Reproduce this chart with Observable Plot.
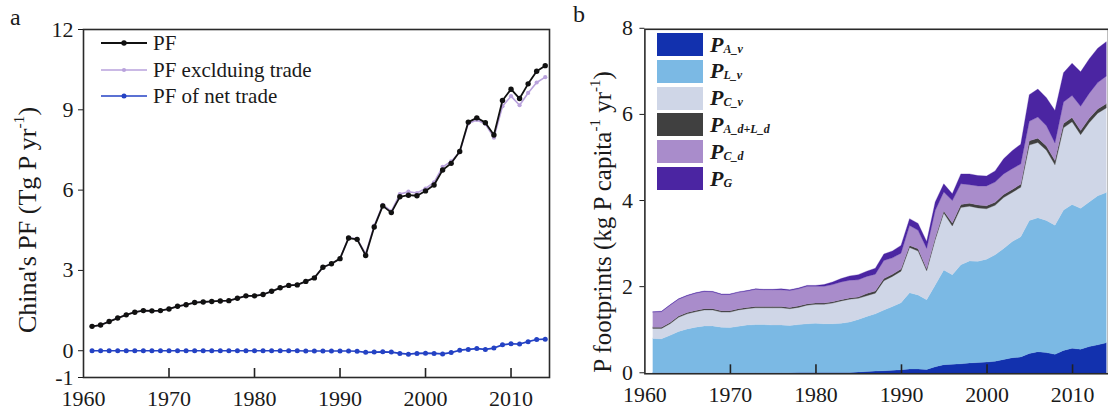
<!DOCTYPE html>
<html><head><meta charset="utf-8">
<script src="https://cdn.jsdelivr.net/npm/d3@7"></script>
<script src="https://cdn.jsdelivr.net/npm/@observablehq/plot@0.6"></script>
<style>
html,body{margin:0;padding:0;background:#fff;overflow:hidden;width:1108px;height:412px}
#wrap{position:relative;width:1108px;height:412px;overflow:hidden;font-family:"Liberation Serif","Times New Roman",serif;color:#1a1a1a}
.abs{position:absolute}
.ytitle{position:absolute;white-space:nowrap;font-size:26px;transform:translate(-50%,-50%) rotate(-90deg);}
.ytitle sup{font-size:0.6em;vertical-align:0.75em;line-height:0}
.panel{position:absolute;font-size:24px}
.lega{position:absolute;left:100px;height:26px;display:flex;align-items:center;font-size:21px;white-space:nowrap}
.legb{position:absolute;left:657px;height:23px;display:flex;align-items:center;white-space:nowrap}
.sw{width:46px;height:23px;margin-right:7px}
.lb{font-weight:bold;font-style:italic;font-size:22px}
.lb sub{font-size:12px;vertical-align:-0.1em;}
</style></head><body><div id="wrap"></div>
<script>
const years = [1961,1962,1963,1964,1965,1966,1967,1968,1969,1970,
  1971,1972,1973,1974,1975,1976,1977,1978,1979,1980,
  1981,1982,1983,1984,1985,1986,1987,1988,1989,1990,
  1991,1992,1993,1994,1995,1996,1997,1998,1999,2000,
  2001,2002,2003,2004,2005,2006,2007,2008,2009,2010,
  2011,2012,2013,2014];

// Panel a: China's PF (Tg P / yr)
const pf = [0.91,0.96,1.09,1.22,1.34,1.44,1.50,1.49,1.50,1.56,
  1.66,1.72,1.80,1.82,1.84,1.86,1.87,1.96,2.05,2.05,
  2.10,2.22,2.35,2.44,2.46,2.59,2.72,3.12,3.25,3.44,
  4.21,4.16,3.56,4.62,5.41,5.16,5.75,5.81,5.79,5.97,
  6.19,6.75,7.00,7.44,8.54,8.70,8.52,8.06,9.35,9.77,
  9.42,9.97,10.44,10.65];
const pfExcl = [0.91,0.96,1.09,1.22,1.34,1.44,1.50,1.49,1.50,1.56,
  1.66,1.72,1.80,1.82,1.84,1.86,1.87,1.96,2.05,2.05,
  2.10,2.22,2.35,2.44,2.46,2.59,2.72,3.12,3.25,3.44,
  4.22,4.18,3.62,4.67,5.45,5.21,5.85,5.94,5.89,6.06,
  6.29,6.87,7.07,7.42,8.49,8.62,8.47,7.96,9.13,9.51,
  9.17,9.63,10.02,10.22];
const pfNet = [0,0,0,0,0,0,0,0,0,0,
  0,0,0,0,0,0,0,0,0,0,
  0,0,0,0,0,-0.01,-0.01,-0.01,-0.01,-0.01,
  -0.01,-0.02,-0.06,-0.05,-0.04,-0.05,-0.10,-0.13,-0.10,-0.09,
  -0.10,-0.12,-0.07,0.02,0.05,0.08,0.05,0.10,0.22,0.26,
  0.25,0.34,0.42,0.43];

// Panel b: stacked P footprints (kg P / capita / yr) — upper boundary of each layer
const topAv = [0.01,0.01,0.01,0.01,0.01,0.01,0.01,0.01,0.01,0.01,
  0.01,0.01,0.01,0.01,0.01,0.01,0.01,0.02,0.02,0.02,
  0.02,0.02,0.02,0.02,0.03,0.04,0.05,0.06,0.07,0.08,
  0.10,0.10,0.09,0.15,0.20,0.21,0.22,0.24,0.25,0.26,
  0.28,0.32,0.36,0.38,0.46,0.50,0.48,0.44,0.53,0.58,
  0.56,0.62,0.66,0.71];
const topLv = [0.81,0.80,0.88,0.97,1.03,1.07,1.10,1.10,1.07,1.06,
  1.09,1.12,1.13,1.13,1.12,1.12,1.11,1.13,1.15,1.16,
  1.15,1.15,1.16,1.19,1.25,1.32,1.38,1.47,1.55,1.64,
  1.87,1.82,1.71,2.05,2.40,2.29,2.52,2.61,2.60,2.65,
  2.75,2.90,3.06,3.17,3.55,3.61,3.55,3.44,3.79,3.92,
  3.83,3.98,4.12,4.20];
const topCv = [1.04,1.04,1.15,1.30,1.38,1.43,1.47,1.47,1.42,1.42,
  1.47,1.50,1.52,1.52,1.52,1.52,1.50,1.53,1.58,1.60,
  1.60,1.63,1.68,1.72,1.74,1.80,1.86,2.15,2.25,2.37,
  2.92,2.84,2.38,3.10,3.72,3.42,3.85,3.88,3.84,3.82,
  3.90,4.08,4.20,4.32,5.30,5.36,5.18,4.84,5.70,5.84,
  5.54,5.82,6.04,6.16];
const topAdLd = [1.07,1.07,1.18,1.33,1.41,1.46,1.50,1.50,1.45,1.45,
  1.50,1.53,1.55,1.55,1.55,1.55,1.53,1.56,1.61,1.63,
  1.63,1.66,1.71,1.75,1.77,1.85,1.91,2.20,2.30,2.42,
  2.97,2.89,2.43,3.15,3.77,3.49,3.92,3.95,3.91,3.89,
  3.97,4.15,4.27,4.39,5.40,5.46,5.28,4.94,5.80,5.94,
  5.64,5.92,6.14,6.26];
const topCd = [1.42,1.43,1.58,1.72,1.80,1.86,1.90,1.89,1.83,1.83,
  1.88,1.91,1.95,1.94,1.94,1.94,1.92,1.96,2.02,2.02,
  2.02,2.06,2.12,2.16,2.17,2.25,2.30,2.62,2.68,2.79,
  3.43,3.32,2.90,3.78,4.21,4.01,4.40,4.38,4.35,4.35,
  4.44,4.63,4.75,4.86,5.85,5.95,5.75,5.35,6.30,6.45,
  6.20,6.50,6.75,6.90];
const topG = [1.43,1.44,1.59,1.73,1.81,1.87,1.91,1.90,1.84,1.84,
  1.89,1.92,1.96,1.95,1.95,1.96,1.94,1.98,2.04,2.04,
  2.06,2.12,2.20,2.26,2.29,2.37,2.44,2.77,2.84,2.97,
  3.59,3.48,3.06,3.98,4.40,4.17,4.63,4.63,4.59,4.58,
  4.70,4.98,5.17,5.32,6.47,6.60,6.40,6.10,6.98,7.20,
  7.00,7.30,7.55,7.70];

const xTicks = [1960,1970,1980,1990,2000,2010];
const yTicksA = [-1,0,3,6,9,12];
const yTicksB = [0,2,4,6,8];

const seriesA = [
  {name:"PF", values: pf, color:"#111111", r:2.7, w:1.8},
  {name:"PF excl" + "duing trade", values: pfExcl, color:"#b9a2dc", r:2.1, w:1.6},
  {name:"PF of net trade", values: pfNet, color:"#2442c4", r:2.5, w:1.7}
];

const layersB = [
  {key:"A_v", label:"A_v", lower:null, upper: topAv, color:"#1231ae"},
  {key:"L_v", label:"L_v", lower: topAv, upper: topLv, color:"#7bb9e4"},
  {key:"C_v", label:"C_v", lower: topLv, upper: topCv, color:"#cfd6e7"},
  {key:"AdLd", label:"A_d+L_d", lower: topCv, upper: topAdLd, color:"#404040"},
  {key:"C_d", label:"C_d", lower: topAdLd, upper: topCd, color:"#a98ccb"},
  {key:"G", label:"G", lower: topCd, upper: topG, color:"#4b25a2"}
];

const wrap = document.getElementById("wrap");
const font = "Liberation Serif, Times New Roman, serif";
const tickFs = 22;

// ---------- Panel a ----------
const rowsA = [];
seriesA.forEach(s => years.forEach((y,i) => rowsA.push({year:y, v:s.values[i], s:s.name})));
const hA = 412, mtA = 29, mbA = 35;
const drawOrder = [1, 0, 2];
const plotA = Plot.plot({
  width: 560, height: hA,
  marginLeft: 83, marginRight: 11, marginTop: mtA, marginBottom: mbA,
  x: {domain: [1960, 2014.5]},
  y: {domain: [-1, 12]},
  style: {fontFamily: font, fontSize: tickFs + "px", color: "#1a1a1a", background: "transparent", overflow: "visible"},
  marks: [
    Plot.axisX({ticks: xTicks, tickSize: 0, tickPadding: 13, tickFormat: d => String(d), label: null, fontSize: tickFs}),
    Plot.tickX(xTicks.slice(1), {x: d => d, insetTop: hA - mtA - mbA - 9, stroke: "#222", strokeWidth: 1.6}),
    Plot.axisY({ticks: yTicksA, tickSize: 5, tickPadding: 5, tickFormat: d => d < 0 ? "-" + (-d) : String(d), label: null, fontSize: tickFs}),
    ...drawOrder.flatMap(k => {
      const s = seriesA[k];
      const rows = rowsA.filter(d => d.s === s.name);
      return [
        Plot.line(rows, {x:"year", y:"v", stroke: s.color, strokeWidth: s.w}),
        Plot.dot(rows, {x:"year", y:"v", fill: s.color, r: s.r})
      ];
    }),
    Plot.frame({stroke: "#2a2a2a", strokeWidth: 1.6})
  ]
});
const divA = document.createElement("div");
divA.className = "abs"; divA.style.left = "0px"; divA.style.top = "0px";
divA.appendChild(plotA);
wrap.appendChild(divA);

// ---------- Panel b ----------
const rowsB = [];
layersB.forEach(L => years.forEach((y,i) => rowsB.push({year:y, key:L.key, lo: L.lower ? L.lower[i] : 0, hi: L.upper[i]})));
const hB = 412, mtB = 29, mbB = 36;
const plotB = Plot.plot({
  width: 552, height: hB,
  marginLeft: 85, marginRight: 0, marginTop: mtB, marginBottom: mbB,
  x: {domain: [1960, 2014.2]},
  y: {domain: [0, 8]},
  style: {fontFamily: font, fontSize: tickFs + "px", color: "#1a1a1a", background: "transparent", overflow: "visible"},
  marks: [
    ...layersB.map(L => Plot.areaY(rowsB.filter(d => d.key === L.key), {x:"year", y1:"lo", y2:"hi", fill: L.color, stroke: L.color, strokeWidth: 0.3})),
    Plot.axisX({ticks: xTicks, tickSize: 0, tickPadding: 13, tickFormat: d => String(d), label: null, fontSize: tickFs}),
    Plot.tickX(xTicks.slice(1), {x: d => d, insetTop: hB - mtB - mbB - 9, stroke: "#222", strokeWidth: 1.6}),
    Plot.axisY({ticks: yTicksB, tickSize: 5, tickPadding: 7, tickFormat: d => String(d), label: null, fontSize: tickFs, dy: -1}),
    Plot.frame({stroke: "#2a2a2a", strokeWidth: 1.6})
  ]
});
const divB = document.createElement("div");
divB.className = "abs"; divB.style.left = "560px"; divB.style.top = "0px";
divB.appendChild(plotB);
wrap.appendChild(divB);

// ---------- Text: panel letters, axis titles ----------
function addHTML(html, cls, styles) {
  const d = document.createElement("div");
  d.className = cls; d.innerHTML = html;
  Object.assign(d.style, styles);
  wrap.appendChild(d); return d;
}
addHTML("a", "panel", {left: "10px", top: "4px"});
addHTML("b", "panel", {left: "573px", top: "1px"});
addHTML("China's PF (Tg P yr<sup>-1</sup>)", "ytitle", {left: "28px", top: "220px"});
addHTML("P footprints (kg P capita<sup>-1</sup> yr<sup>-1</sup>)", "ytitle", {left: "603px", top: "222px", fontSize: "25px"});

// ---------- Legend a ----------
const legAY = [43, 70, 96];
seriesA.forEach((s, i) => {
  const html = `<svg width="48" height="10" style="margin-right:5px"><line x1="1" y1="5" x2="47" y2="5" stroke="${s.color}" stroke-width="${s.w}"/><circle cx="24" cy="5" r="${s.r}" fill="${s.color}"/></svg><span>${s.name}</span>`;
  addHTML(html, "lega", {top: (legAY[i] - 13) + "px"});
});

// ---------- Legend b ----------
layersB.forEach((L, i) => {
  const html = `<div class="sw" style="background:${L.color}"></div><span class="lb">P<sub>${L.label}</sub></span>`;
  addHTML(html, "legb", {top: (33 + 26.8 * i) + "px"});
});
</script>
</body></html>
